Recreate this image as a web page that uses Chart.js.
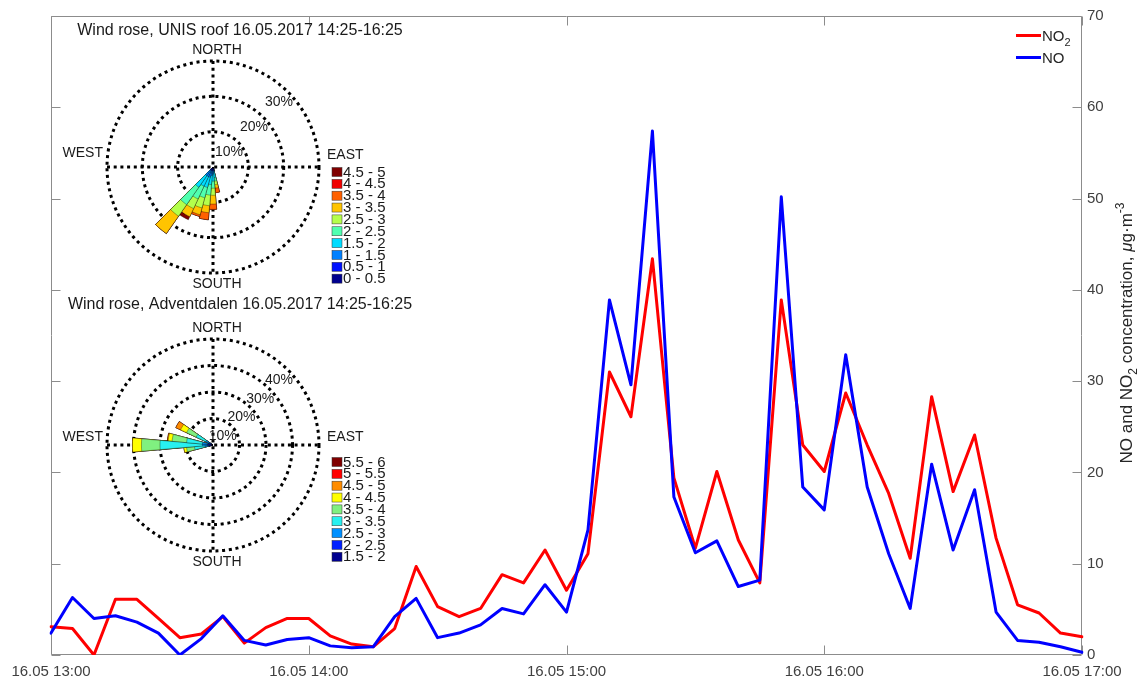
<!DOCTYPE html>
<html>
<head>
<meta charset="utf-8">
<script src="https://cdn.jsdelivr.net/npm/chart.js@4.4.1/dist/chart.umd.min.js"></script>
<style>
  html, body { margin: 0; padding: 0; background: #ffffff; }
  #wrap { position: relative; width: 1141px; height: 684px; overflow: hidden; }
  #wrap canvas { position: absolute; }
</style>
</head>
<body>
<div id="wrap">
  <canvas id="main" width="1141" height="684" style="left:0;top:0"></canvas>
  <canvas id="roseUnis" width="430" height="292" style="left:0;top:0"></canvas>
  <canvas id="roseAdv" width="430" height="292" style="left:0;top:292px"></canvas>
</div>
<script>
const FONT = "'Liberation Sans', Arial, Helvetica, sans-serif";

// ---- NO / NO2 time series, 5-minute means, 16.05 13:00-17:00 ----
const times = [
  '13:00','13:05','13:10','13:15','13:20','13:25','13:30','13:35','13:40','13:45','13:50','13:55',
  '14:00','14:05','14:10','14:15','14:20','14:25','14:30','14:35','14:40','14:45','14:50','14:55',
  '15:00','15:05','15:10','15:15','15:20','15:25','15:30','15:35','15:40','15:45','15:50','15:55',
  '16:00','16:05','16:10','16:15','16:20','16:25','16:30','16:35','16:40','16:45','16:50','16:55',
  '17:00'
];
const no2 = [
  3.1, 2.9, 0.0, 6.1, 6.1, 4.0, 1.9, 2.3, 4.2, 1.3, 3.0, 4.0,
  4.0, 2.1, 1.2, 0.9, 2.9, 9.7, 5.3, 4.2, 5.1, 8.8, 7.9, 11.5,
  7.1, 11.1, 31.0, 26.1, 43.4, 19.4, 11.7, 20.1, 12.6, 7.9, 38.9, 23.0,
  20.1, 28.7, 23.0, 17.7, 10.6, 28.3, 17.9, 24.1, 12.8, 5.5, 4.6, 2.4,
  2.0
];
const no = [
  2.4, 6.3, 4.0, 4.3, 3.6, 2.4, 0.0, 1.8, 4.3, 1.6, 1.1, 1.7,
  1.9, 1.0, 0.8, 0.9, 4.2, 6.2, 1.9, 2.4, 3.3, 5.1, 4.5, 7.7,
  4.7, 13.7, 38.9, 29.6, 57.4, 17.3, 11.2, 12.5, 7.5, 8.2, 50.2, 18.4,
  15.9, 32.9, 18.4, 11.1, 5.1, 20.9, 11.5, 18.1, 4.7, 1.6, 1.4, 0.9,
  0.3
];
const hourTicks = ['13:00', '14:00', '15:00', '16:00', '17:00'];
const datePrefix = '16.05';
const yMin = 0, yMax = 70, yStep = 10;

// ---- wind roses: frequency (% of time) per direction sector and speed bin ----
const sectorDirs = [0,10,20,30,40,50,60,70,80,90,100,110,120,130,140,150,160,170,
                    180,190,200,210,220,230,240,250,260,270,280,290,300,310,320,330,340,350];

const unisDirs = [170, 180, 190, 200, 210, 220];
const unisBins = ['0 - 0.5','0.5 - 1','1 - 1.5','1.5 - 2','2 - 2.5','2.5 - 3','3 - 3.5','3.5 - 4','4 - 4.5','4.5 - 5'];
const unisColors = ['#00008f','#0010ff','#0080ff','#00dcff','#50ffb0','#b4ff4c','#ffc400','#ff6000','#f00000','#800000'];
const unisFreq = [
  [0.2, 0.3, 0.3, 0.3, 0.3, 0.3],
  [0.6, 0.7, 0.7, 0.7, 0.7, 0.7],
  [0.7, 1.0, 1.5, 2.0, 2.0, 2.0],
  [1.5, 2.0, 2.5, 3.0, 3.0, 4.0],
  [1.0, 2.0, 3.0, 3.0, 4.0, 6.0],
  [1.0, 2.0, 3.0, 3.0, 3.0, 4.0],
  [1.0, 2.5, 2.0, 2.0, 2.5, 6.0],
  [1.3, 1.5, 2.0, 0.5, 0.0, 0.0],
  [0.0, 0.0, 0.0, 0.0, 0.0, 0.0],
  [0.0, 0.0, 0.0, 0.0, 1.0, 0.0]
];
const unisRings = [10, 20, 30];

const advDirs = [260, 270, 280, 300];
const advBins = ['1.5 - 2','2 - 2.5','2.5 - 3','3 - 3.5','3.5 - 4','4 - 4.5','4.5 - 5','5 - 5.5','5.5 - 6'];
const advColors = ['#00008f','#0020ff','#0090ff','#28f0f0','#80f080','#ffff00','#ff8c00','#ff0000','#800000'];
const advFreq = [
  [0.5, 0.5, 0.5, 0.5],
  [1.0, 1.5, 1.5, 1.0],
  [1.5, 2.0, 2.0, 1.5],
  [4.0, 16.0, 6.0, 4.0],
  [3.0, 7.0, 5.5, 4.0],
  [1.0, 3.4, 1.5, 2.5],
  [0.0, 0.0, 0.3, 2.0],
  [0.0, 0.0, 0.0, 0.0],
  [0.0, 0.0, 0.0, 0.0]
];
const advRings = [10, 20, 30, 40];

// ---------- helpers ----------
function font(size, italic) { return (italic ? 'italic ' : '') + size + 'px ' + FONT; }

// draws a run of text pieces with optional sub/superscript offsets
function drawRich(ctx, parts, x, y, align) {
  let total = 0;
  parts.forEach(p => { ctx.font = font(p.size, p.italic); p.w = ctx.measureText(p.t).width; total += p.w; });
  let cx = align === 'center' ? x - total / 2 : x;
  parts.forEach(p => {
    ctx.font = font(p.size, p.italic);
    ctx.fillText(p.t, cx, y + (p.dy || 0));
    cx += p.w;
  });
}

// ---------- main time-series chart ----------
const framePlugin = {
  id: 'frame',
  beforeDatasetsDraw(chart) {
    const { ctx, chartArea: a, scales } = chart;
    const xs = scales.x, ys = scales.y;
    const L = Math.round(a.left) + 0.5, R = Math.round(a.right) - 0.5;
    const T = Math.round(a.top) + 0.5, B = Math.round(a.bottom) - 0.5;
    ctx.save();
    ctx.strokeStyle = '#8c8c8c';
    ctx.lineWidth = 1;
    ctx.beginPath();
    ctx.rect(L, T, R - L, B - T);
    const tl = 9;
    hourTicks.forEach(h => {
      const px = Math.round(xs.getPixelForValue(times.indexOf(h))) + 0.5;
      ctx.moveTo(px, B); ctx.lineTo(px, B - tl);
      ctx.moveTo(px, T); ctx.lineTo(px, T + tl);
    });
    for (let v = yMin; v <= yMax; v += yStep) {
      const py = Math.round(ys.getPixelForValue(v)) + 0.5;
      ctx.moveTo(L, py); ctx.lineTo(L + tl, py);
      ctx.moveTo(R, py); ctx.lineTo(R - tl, py);
    }
    ctx.stroke();
    ctx.restore();
  },
  afterDraw(chart) {
    const { ctx } = chart;
    ctx.save();
    ctx.fillStyle = '#262626';
    ctx.textBaseline = 'alphabetic';
    // legend
    const lx0 = 1016, lx1 = 1041;
    [['#ff0000', 35.5, [{ t: 'NO', size: 15 }, { t: '2', size: 11, dy: 5 }]],
     ['#0000ff', 57.5, [{ t: 'NO', size: 15 }]]].forEach(([c, y, parts]) => {
      ctx.strokeStyle = c; ctx.lineWidth = 3;
      ctx.beginPath(); ctx.moveTo(lx0, y); ctx.lineTo(lx1, y); ctx.stroke();
      drawRich(ctx, parts, 1042, y + 5.5, 'left');
    });
    // y-axis title (reads bottom to top)
    ctx.translate(1132, 333);
    ctx.rotate(-Math.PI / 2);
    drawRich(ctx, [
      { t: 'NO and NO', size: 17 },
      { t: '2', size: 12, dy: 5 },
      { t: ' concentration, ', size: 17 },
      { t: 'μ', size: 17, italic: true },
      { t: 'g·m', size: 17 },
      { t: '-3', size: 12, dy: -8 }
    ], 0, 0, 'center');
    ctx.restore();
  }
};

new Chart(document.getElementById('main'), {
  type: 'line',
  data: {
    labels: times,
    datasets: [
      { label: 'NO2', data: no2, borderColor: '#ff0000', borderWidth: 3, order: 1 },
      { label: 'NO', data: no, borderColor: '#0000ff', borderWidth: 3, order: 0 }
    ]
  },
  options: {
    responsive: false,
    devicePixelRatio: 1,
    animation: false,
    layout: { padding: { left: 51, top: 16, right: 0, bottom: 0 } },
    elements: {
      point: { radius: 0, hoverRadius: 0 },
      line: { tension: 0, borderJoinStyle: 'round', borderCapStyle: 'round', fill: false }
    },
    plugins: { legend: { display: false }, tooltip: { enabled: false } },
    events: [],
    scales: {
      x: {
        type: 'category',
        offset: false,
        grid: { display: false, drawTicks: false },
        border: { display: false },
        ticks: {
          autoSkip: false, maxRotation: 0, minRotation: 0, padding: 8,
          color: '#404040', font: { family: FONT, size: 15 },
          callback: (v, i) => hourTicks.includes(times[i]) ? datePrefix + ' ' + times[i] : ''
        },
        afterFit: s => { s.height = 29; }
      },
      y: {
        position: 'right',
        min: yMin, max: yMax,
        grid: { display: false, drawTicks: false },
        border: { display: false },
        ticks: { stepSize: yStep, padding: 5, color: '#404040', font: { family: FONT, size: 15 } },
        afterFit: s => { s.width = 59; }
      }
    }
  },
  plugins: [framePlugin]
});

// ---------- wind roses ----------
const rosePlugin = {
  id: 'rose',
  beforeDatasetsDraw(chart, args, o) {
    const s = chart.scales.r, ctx = chart.ctx;
    const R = s.drawingArea, cx = s.xCenter, cy = s.yCenter;
    ctx.save();
    ctx.strokeStyle = '#000'; ctx.lineWidth = 3; ctx.setLineDash([3, 3.7]);
    ctx.beginPath();
    ctx.moveTo(cx, cy - R); ctx.lineTo(cx, cy + R);
    ctx.moveTo(cx - R, cy); ctx.lineTo(cx + R, cy);
    ctx.stroke();
    ctx.restore();
  },
  afterDraw(chart, args, o) {
    const s = chart.scales.r, ctx = chart.ctx;
    const cx = s.xCenter, cy = s.yCenter;
    ctx.save();
    ctx.fillStyle = '#1a1a1a';
    ctx.textBaseline = 'middle';
    // title
    ctx.textAlign = 'center';
    ctx.font = font(16);
    ctx.fillText(o.title, cx + 27, cy + o.titleDy);
    // compass labels
    ctx.font = font(14);
    ctx.fillText('NORTH', cx + 4, cy - 117);
    ctx.fillText('SOUTH', cx + 4, cy + 117);
    ctx.textAlign = 'right';
    ctx.fillText('WEST', cx - 110, cy + o.westDy);
    ctx.textAlign = 'left';
    ctx.fillText('EAST', cx + 114, cy + o.eastDy);
    // ring labels
    ctx.textAlign = 'center';
    o.rings.forEach(v => {
      const r = s.getDistanceFromCenterForValue(v);
      const px = cx + r * Math.SQRT1_2 - 9, py = cy - r * Math.SQRT1_2 + 10;
      ctx.fillText(v + '%', px, py);
    });
    // speed legend (highest bin on top)
    ctx.textAlign = 'left';
    ctx.font = font(15);
    const n = o.bins.length;
    for (let k = 0; k < n; k++) {
      const b = n - 1 - k;
      const y = cy + o.legendDy + k * 11.85;
      ctx.fillStyle = o.colors[b];
      ctx.fillRect(cx + 119, y - 4.5, 10, 9);
      ctx.strokeStyle = '#333'; ctx.lineWidth = 0.5;
      ctx.strokeRect(cx + 119, y - 4.5, 10, 9);
      ctx.fillStyle = '#1a1a1a';
      ctx.fillText(o.bins[b], cx + 130, y + 0.5);
    }
    ctx.restore();
  }
};

function roseDatasets(dirs, freq, colors) {
  const sets = [];
  const cum = sectorDirs.map(() => 0);
  freq.forEach((row, k) => {
    dirs.forEach((d, j) => { cum[sectorDirs.indexOf(d)] += row[j]; });
    sets.push({
      data: cum.slice(),
      backgroundColor: colors[k],
      borderColor: 'rgba(0,0,0,0.55)',
      borderWidth: c => (c.raw > 0 ? 0.6 : 0)
    });
  });
  return sets;
}

function makeRose(id, dirs, freq, colors, bins, rings, max, pad, deco) {
  new Chart(document.getElementById(id), {
    type: 'polarArea',
    data: { labels: sectorDirs, datasets: roseDatasets(dirs, freq, colors) },
    options: {
      responsive: false,
      devicePixelRatio: 1,
      animation: false,
      events: [],
      layout: { padding: pad },
      plugins: {
        legend: { display: false },
        tooltip: { enabled: false },
        rose: Object.assign({ bins, colors, rings }, deco)
      },
      scales: {
        r: {
          min: 0, max: max,
          startAngle: -5,
          ticks: { display: false, stepSize: 10 },
          grid: { circular: true, color: '#000', lineWidth: 3 },
          border: { dash: [3, 3.7] },
          angleLines: { display: false },
          pointLabels: { display: false }
        }
      }
    },
    plugins: [rosePlugin]
  });
}

makeRose('roseUnis', unisDirs, unisFreq, unisColors, unisBins, unisRings, 30,
  { left: 107, right: 110, top: 61, bottom: 18 },
  { title: 'Wind rose, UNIS roof 16.05.2017 14:25-16:25', titleDy: -136, westDy: -14, eastDy: -12, legendDy: 5 });

makeRose('roseAdv', advDirs, advFreq, advColors, advBins, advRings, 40,
  { left: 107, right: 110, top: 47, bottom: 32 },
  { title: 'Wind rose, Adventdalen 16.05.2017 14:25-16:25', titleDy: -140, westDy: -8, eastDy: -8, legendDy: 17 });
</script>
</body>
</html>
